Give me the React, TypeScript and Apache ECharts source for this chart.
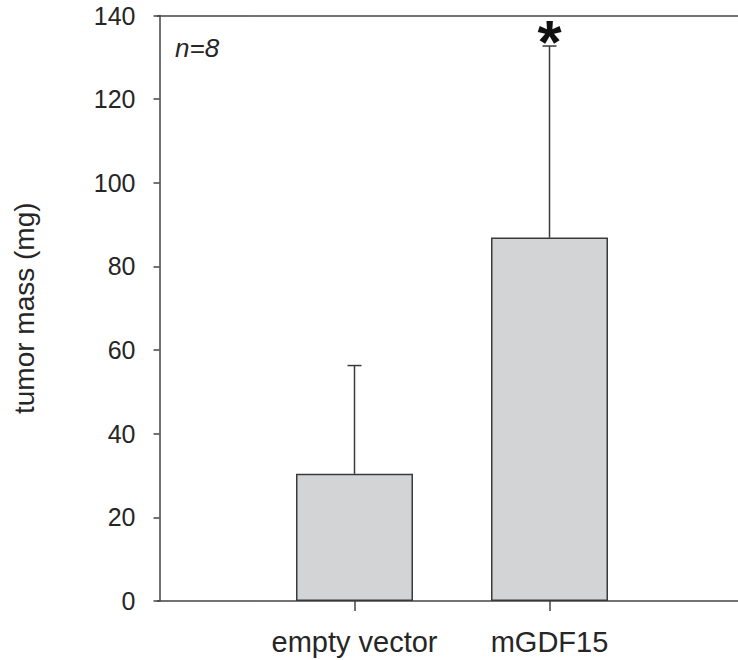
import React, { useEffect, useRef } from 'react';
import * as echarts from 'echarts';

const categories = ['empty vector', 'mGDF15'];
const categoryPositions = [1, 2];
const meanValues = [30.4, 86.9];
const upperErrorValues = [56.3, 132.7];
const significanceMarks = ['', '*'];
const yTickValues = [0, 20, 40, 60, 80, 100, 120, 140];
const sampleSizeLabel = 'n=8';
const yAxisTitle = 'tumor mass (mg)';

const AXIS_COLOR = '#444444';
const TEXT_COLOR = '#262626';
const FONT = '"Liberation Sans", Arial, sans-serif';

export default function App() {
  const ref = useRef<HTMLDivElement>(null);

  useEffect(() => {
    if (!ref.current) return;
    const chart = echarts.init(ref.current, undefined, { renderer: 'svg' });

    const xMin = -0.0103;
    const xMax = 2.9667;

    const option: any = {
      animation: false,
      backgroundColor: '#ffffff',
      grid: { left: 157.5, right: 0, top: 15.5, bottom: 59, containLabel: false },
      xAxis: [
        {
          type: 'value',
          min: xMin,
          max: xMax,
          position: 'bottom',
          axisLine: { show: true, lineStyle: { color: AXIS_COLOR, width: 1.5 } },
          axisTick: {
            show: true,
            customValues: categoryPositions,
            length: 10,
            lineStyle: { color: AXIS_COLOR, width: 1.5 },
          },
          axisLabel: {
            customValues: categoryPositions,
            formatter: (v: number) => {
              const i = categoryPositions.indexOf(Math.round(v));
              return i >= 0 ? categories[i] : '';
            },
            margin: 26,
            fontSize: 29,
            color: TEXT_COLOR,
            fontFamily: FONT,
          },
          splitLine: { show: false },
        },
        {
          type: 'value',
          min: xMin,
          max: xMax,
          position: 'top',
          axisLine: { show: true, lineStyle: { color: AXIS_COLOR, width: 1.5 } },
          axisTick: { show: false },
          axisLabel: { show: false },
          splitLine: { show: false },
        },
      ],
      yAxis: {
        type: 'value',
        min: yTickValues[0],
        max: yTickValues[yTickValues.length - 1],
        interval: yTickValues[1] - yTickValues[0],
        axisLine: { show: true, lineStyle: { color: AXIS_COLOR, width: 1.5 } },
        axisTick: { show: true, length: 6, lineStyle: { color: AXIS_COLOR, width: 1.5 } },
        axisLabel: { margin: 22, fontSize: 25, color: TEXT_COLOR, fontFamily: FONT },
        splitLine: { show: false },
        name: yAxisTitle,
        nameLocation: 'middle',
        nameGap: 119,
        nameTextStyle: { fontSize: 28, color: TEXT_COLOR, fontFamily: FONT },
      },
      graphic: [
        {
          type: 'text',
          left: 175,
          top: 35,
          style: {
            text: sampleSizeLabel,
            fontSize: 26,
            fontStyle: 'italic',
            fill: TEXT_COLOR,
            fontFamily: FONT,
          },
        },
      ],
      series: [
        {
          type: 'bar',
          xAxisIndex: 0,
          data: categoryPositions.map((x, i) => [x, meanValues[i]]),
          barWidth: 117,
          itemStyle: { color: '#d3d4d6', borderColor: '#3a3a3a', borderWidth: 1.5 },
          z: 2,
        },
        {
          type: 'custom',
          xAxisIndex: 0,
          z: 3,
          data: categoryPositions.map((x, i) => [x, meanValues[i], upperErrorValues[i], i]),
          encode: { x: 0, y: [1, 2] },
          renderItem: (params: any, api: any) => {
            const x = api.value(0);
            const p0 = api.coord([x, api.value(1)]);
            const p1 = api.coord([x, api.value(2)]);
            const idx = api.value(3);
            const ls = { stroke: '#3a3a3a', lineWidth: 1.5 };
            const children: any[] = [
              { type: 'line', shape: { x1: p0[0], y1: p0[1], x2: p1[0], y2: p1[1] }, style: ls },
              { type: 'line', shape: { x1: p1[0] - 7, y1: p1[1], x2: p1[0] + 7, y2: p1[1] }, style: ls },
            ];
            const mark = significanceMarks[idx];
            if (mark) {
              children.push({
                type: 'text',
                x: p1[0],
                y: p1[1] - 5,
                style: {
                  text: mark,
                  align: 'center',
                  verticalAlign: 'middle',
                  fontSize: 62,
                  fontWeight: 'bold',
                  fill: '#111111',
                  fontFamily: FONT,
                },
              });
            }
            return { type: 'group', children };
          },
        },
      ],
    };

    chart.setOption(option);
    return () => chart.dispose();
  }, []);

  return (
    <div
      ref={ref}
      style={{ position: 'absolute', left: 0, top: 0, width: 738, height: 660 }}
    />
  );
}
